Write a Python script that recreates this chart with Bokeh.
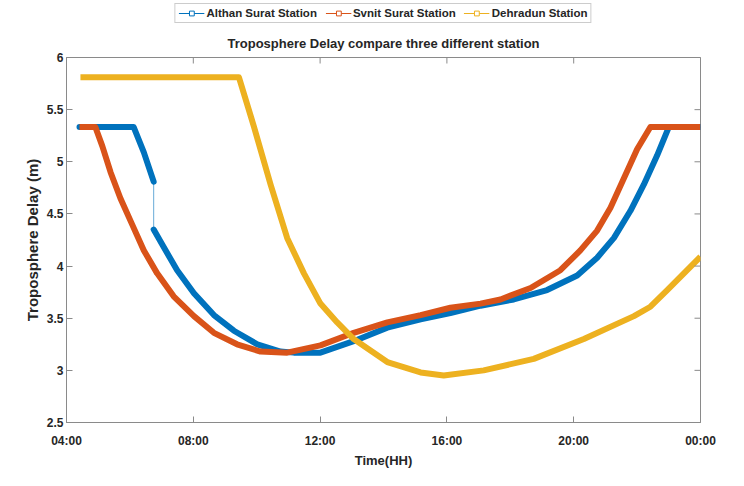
import math
from bokeh.plotting import figure
from bokeh.layouts import column
from bokeh.models import Legend, LegendItem, FixedTicker, Range1d
from bokeh.embed import file_html
from bokeh.resources import INLINE

# ---- data (hours of day, tropospheric delay in m) ----
x_ticks = [4, 8, 12, 16, 20, 24]
x_tick_labels = ["04:00", "08:00", "12:00", "16:00", "20:00", "00:00"]
y_ticks = [2.5, 3, 3.5, 4, 4.5, 5, 5.5, 6]
y_tick_labels = ["2.5", "3", "3.5", "4", "4.5", "5", "5.5", "6"]

althan_x1 = [4.41, 6.12, 6.44, 6.75]
althan_y1 = [5.333, 5.333, 5.09, 4.81]
althan_x2 = [6.75, 7.07, 7.49, 8.02, 8.65, 9.28, 10.02, 10.75, 11.17, 12.01, 13.06,
             14.12, 15.17, 16.11, 17.06, 18.11, 19.16, 20.11, 20.74, 21.27, 21.79,
             22.21, 22.63, 23.00, 24.0]
althan_y2 = [4.35, 4.18, 3.96, 3.74, 3.53, 3.38, 3.25, 3.18, 3.17, 3.17, 3.28,
             3.41, 3.49, 3.55, 3.62, 3.68, 3.77, 3.91, 4.08, 4.27, 4.53,
             4.78, 5.06, 5.333, 5.333]

svnit_x = [4.41, 4.91, 5.13, 5.39, 5.70, 6.07, 6.44, 6.86, 7.38, 8.02, 8.65, 9.38,
           10.12, 10.96, 12.01, 13.06, 14.12, 15.17, 16.11, 17.06, 17.69, 18.64, 19.58,
           20.21, 20.74, 21.16, 21.58, 22.00, 22.42, 24.0]
svnit_y = [5.333, 5.333, 5.15, 4.90, 4.65, 4.40, 4.15, 3.93, 3.71, 3.52, 3.36, 3.25,
           3.18, 3.17, 3.24, 3.36, 3.46, 3.53, 3.60, 3.64, 3.68, 3.79, 3.96,
           4.15, 4.34, 4.56, 4.84, 5.12, 5.333, 5.333]

dehra_x = [4.44, 9.44, 9.91, 10.44, 10.96, 11.49, 12.01, 12.54, 13.06, 14.12, 15.17,
           15.90, 17.16, 18.74, 20.32, 21.90, 22.42, 22.95, 24.0]
dehra_y = [5.81, 5.81, 5.34, 4.78, 4.27, 3.93, 3.64, 3.46, 3.30, 3.08, 2.98,
           2.95, 3.00, 3.11, 3.30, 3.52, 3.61, 3.77, 4.09]

labels = ["Althan Surat Station", "Svnit Surat Station", "Dehradun Station"]
colors = ["#0072BD", "#D95319", "#EDB120"]
title_text = "Troposphere Delay compare three different station"

FONT = "Liberation Sans"
AX = "#8a8a8a"
TXT = "#262626"

W = 728
LEG_H = 26
H = 444
ML, MR, MT, MB = 66, 28, 31, 42

series = [
    (althan_x1 + althan_x2, althan_y1 + althan_y2),
    (svnit_x, svnit_y),
    (dehra_x, dehra_y),
]

# ---------------- main chart ----------------
p = figure(width=W, height=H, output_backend="svg", toolbar_location=None,
           title=title_text,
           x_range=Range1d(x_ticks[0], x_ticks[-1]), y_range=Range1d(y_ticks[0], y_ticks[-1]),
           min_border_left=ML, min_border_right=MR, min_border_bottom=MB, min_border_top=MT)
p.background_fill_color = "white"
p.border_fill_color = "white"
p.outline_line_color = AX
p.grid.visible = False
p.title.align = "center"
p.title.text_font = FONT
p.title.text_font_style = "bold"
p.title.text_font_size = "13px"
p.title.text_color = TXT
p.title.standoff = 13

# thin connecting line of the Althan series (visible across its data gap)
p.line(series[0][0], series[0][1], color=colors[0], line_width=1, alpha=0.6)

# thick lines (blue, then orange, then yellow on top)
p.line(althan_x1, althan_y1, color=colors[0], line_width=6, line_cap="round",
       line_join="round")
p.line(althan_x2, althan_y2, color=colors[0], line_width=6, line_cap="round",
       line_join="round")
p.line(svnit_x, svnit_y, color=colors[1], line_width=6, line_join="round")
p.line(dehra_x, dehra_y, color=colors[2], line_width=6, line_join="round")

# inward tick marks on the top and right edges (box axes, MATLAB style)
p.scatter(x_ticks, [y_ticks[-1]] * len(x_ticks), marker="dash", angle=math.pi / 2,
          size=12, line_color=AX, line_width=1)
p.scatter([x_ticks[-1]] * len(y_ticks), y_ticks, marker="dash", size=12,
          line_color=AX, line_width=1)

for ax in (p.xaxis[0], p.yaxis[0]):
    ax.axis_line_color = AX
    ax.major_tick_line_color = AX
    ax.major_tick_in = 6
    ax.major_tick_out = 0
    ax.minor_tick_line_color = None
    ax.major_label_text_font = FONT
    ax.major_label_text_font_style = "bold"
    ax.major_label_text_font_size = "12px"
    ax.major_label_text_color = TXT
    ax.axis_label_text_font = FONT
    ax.axis_label_text_font_style = "bold"
    ax.axis_label_text_color = TXT

p.xaxis.ticker = FixedTicker(ticks=x_ticks)
p.xaxis.major_label_overrides = dict(zip(x_ticks, x_tick_labels))
p.xaxis.axis_label = "Time(HH)"
p.xaxis.axis_label_text_font_size = "13px"
p.xaxis.major_label_standoff = 11
p.xaxis.axis_label_standoff = 2

p.yaxis.ticker = FixedTicker(ticks=y_ticks)
p.yaxis.major_label_overrides = {t: l for t, l in zip(y_ticks, y_tick_labels)}
p.yaxis.axis_label = "Troposphere Delay (m)"
p.yaxis.axis_label_text_font_size = "15px"
p.yaxis.major_label_standoff = 3
p.yaxis.axis_label_standoff = 3

# ---------------- legend strip (own small figure above the chart) ----------------
lf = figure(width=W, height=LEG_H, output_backend="svg", toolbar_location=None,
            x_axis_type=None, y_axis_type=None, title=None,
            x_range=Range1d(0, 1), y_range=Range1d(0, 1),
            min_border_left=ML, min_border_right=MR, min_border_top=0, min_border_bottom=0)
lf.outline_line_color = None
lf.grid.visible = False
lf.background_fill_color = "white"
lf.border_fill_color = "white"

legend_items = []
for (xs, ys), lab, c in zip(series, labels, colors):
    lr = lf.line(xs, ys, color=c, line_width=1)
    sr = lf.scatter(xs, ys, marker="square", size=4, line_color=c, fill_color="white",
                    line_width=1)
    legend_items.append(LegendItem(label=lab, renderers=[lr, sr]))

legend = Legend(items=legend_items, orientation="horizontal", location="center",
                border_line_color="#999999", background_fill_color="white",
                label_text_font=FONT,
                label_text_font_style="bold", label_text_font_size="11.5px",
                label_text_color=TXT, glyph_width=26, glyph_height=12,
                label_standoff=2, spacing=8, padding=3, margin=0)
lf.add_layout(legend, "center")

layout = column(lf, p, spacing=0)

open("out.html", "w").write(file_html(layout, INLINE))
